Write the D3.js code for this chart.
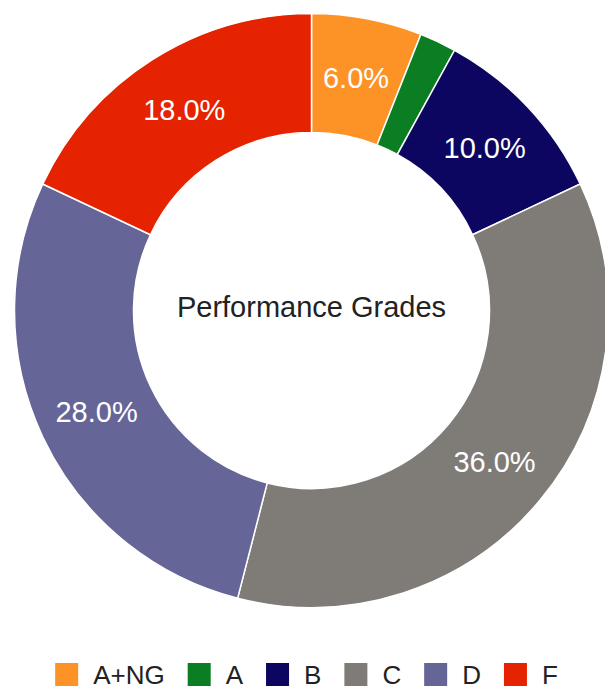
<!DOCTYPE html>
<html>
<head>
<meta charset="utf-8">
<style>
body { margin: 0; background: #fff; }
svg { display: block; font-family: Arial, "Liberation Sans", sans-serif; }
.slice { stroke: #fff; stroke-width: 1.5px; }
.slice-label { fill: #fff; font-size: 29px; }
.center-title { fill: #222; font-size: 29px; }
.legend-text { fill: #222; font-size: 26px; }
</style>
</head>
<body>
<script src="https://d3js.org/d3.v7.min.js"></script>
<script>

var grades = ["A+NG", "A", "B", "C", "D", "F"];
var shares = [6, 2, 10, 36, 28, 18];
var colors = ["#fd9326", "#0b7d22", "#0d0660", "#7f7b77", "#656598", "#e52300"];
var title = "Performance Grades";

var width = 605;
var height = 690;
var cx = 311.5;
var cy = 310.5;
var outerR = 297;
var innerR = 178;

var svg = d3.select("body").append("svg")
            .attr("width", width)
            .attr("height", height)

var color = d3.scaleOrdinal().domain(grades).range(colors)

var data = grades.map(function(g, i) { return {grade: g, value: shares[i]}; })

var pie = d3.pie()
            .sort(null)
            .value(function(d) { return d.value; })

var arc = d3.arc()
            .innerRadius(innerR)
            .outerRadius(outerR)

var labelArc = d3.arc()
                 .innerRadius((innerR + outerR) / 2)
                 .outerRadius((innerR + outerR) / 2)

var total = d3.sum(shares)
var pieGroup = svg.append("g").attr("transform", "translate(" + cx + "," + cy + ")")

var arcs = pie(data)

pieGroup.selectAll("path")
        .data(arcs)
        .enter().append("path")
        .attr("class", "slice")
        .attr("d", arc)
        .style("fill", function(d) { return color(d.data.grade); })

// small slices get no label
pieGroup.selectAll("text.slice-label")
        .data(arcs.filter(function(d) { return d.data.value / total >= 0.05; }))
        .enter().append("text")
        .attr("class", "slice-label")
        .attr("transform", function(d) { return "translate(" + labelArc.centroid(d) + ")"; })
        .attr("text-anchor", "middle")
        .attr("dy", "0.36em")
        .text(function(d) { return (d.data.value / total * 100).toFixed(1) + "%"; })

pieGroup.append("text")
        .attr("class", "center-title")
        .attr("text-anchor", "middle")
        .attr("y", -4)
        .attr("dy", "0.36em")
        .text(title)

// legend, laid out from measured text widths and centred
var legendY = 663;
var box = 23;
var textGap = 15;
var itemGap = 23;

var legend = svg.append("g")

var items = legend.selectAll("g")
                  .data(grades)
                  .enter().append("g")

items.append("rect")
     .attr("width", box)
     .attr("height", box)
     .attr("y", legendY)
     .style("fill", function(d) { return color(d); })

items.append("text")
     .attr("class", "legend-text")
     .attr("y", legendY + box / 2)
     .attr("dy", "0.36em")
     .text(function(d) { return d; })

var x = 0;
items.each(function() {
	var g = d3.select(this);
	var w = g.select("text").node().getComputedTextLength();
	g.select("rect").attr("x", x);
	g.select("text").attr("x", x + box + textGap);
	x += box + textGap + w + itemGap;
})
var legendW = x - itemGap;
legend.attr("transform", "translate(" + (306.5 - legendW / 2) + ",0)")

</script>
</body>
</html>
